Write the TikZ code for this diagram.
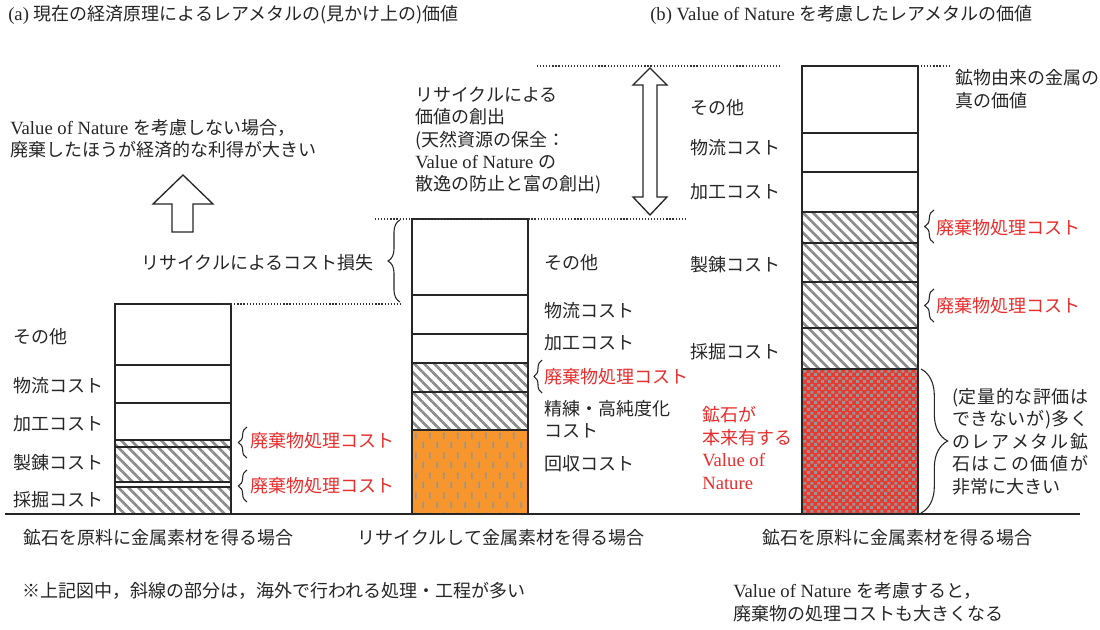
\documentclass[tikz,border=0pt]{standalone}
\usepackage{fontspec}
\setmainfont{Liberation Serif}
\newfontfamily\jpfont{Noto Sans CJK JP}
\usetikzlibrary{patterns,patterns.meta,decorations.pathreplacing}
\newcommand\latn[1]{{\rmfamily\fontsize{14}{16.8}\selectfont #1}}
\definecolor{hatchgray}{RGB}{140,140,140}
\definecolor{dashgray}{RGB}{150,150,150}
\definecolor{sqgray}{RGB}{150,150,150}
\definecolor{orangefill}{RGB}{247,150,45}
\definecolor{redfill}{RGB}{235,55,45}
\definecolor{redtext}{RGB}{232,45,45}
\pgfdeclarepatternformonly{vdashes}{\pgfqpoint{0pt}{0pt}}{\pgfqpoint{10.5pt}{15pt}}{\pgfqpoint{10.5pt}{15pt}}{%
  \pgfsetlinewidth{1.3pt}%
  \pgfpathmoveto{\pgfqpoint{2.6pt}{1.2pt}}\pgfpathlineto{\pgfqpoint{2.6pt}{6.3pt}}%
  \pgfpathmoveto{\pgfqpoint{7.85pt}{8.7pt}}\pgfpathlineto{\pgfqpoint{7.85pt}{13.8pt}}%
  \pgfusepath{stroke}}
\pgfdeclarepatternformonly{gsquares}{\pgfqpoint{0pt}{0pt}}{\pgfqpoint{5pt}{5pt}}{\pgfqpoint{5pt}{5pt}}{%
  \pgfpathrectangle{\pgfqpoint{0.1pt}{0.1pt}}{\pgfqpoint{2.3pt}{2.3pt}}%
  \pgfpathrectangle{\pgfqpoint{2.6pt}{2.6pt}}{\pgfqpoint{2.3pt}{2.3pt}}%
  \pgfusepath{fill}}
\tikzset{
  txt/.style={font=\jpfont\fontsize{13.5}{16.8}\selectfont, inner sep=0pt, anchor=west, text=black!85},
  rtxt/.style={txt, text=redtext},
  barline/.style={draw=black!85, line width=1pt},
  hatch/.style={pattern={Lines[angle=-45,distance=5.3pt,line width=2pt]}, pattern color=hatchgray},
  dotl/.style={draw=black!80, line width=0.8pt, dash pattern=on 0.9pt off 1.4pt},
  brc/.style={decorate, decoration={brace, amplitude=#1}, draw=black!85, line width=0.8pt},
  blockarrow/.style={draw=black!85, line width=1pt, fill=white, line join=miter}
}
\begin{document}
\begin{tikzpicture}[x=0.75pt,y=-0.75pt]
\fill[white] (0,0) rectangle (1100,629);
\useasboundingbox (0,0) rectangle (1100,629);

% ---------- titles
\node[txt] (ta) at (8,15) {\latn{(a) }現在の経済原理によるレアメタルの(見かけ上の)価値};
\node[txt] (tb) at (650,15) {\latn{(b) Value of Nature }を考慮したレアメタルの価値};

% ---------- bar 1
\path[hatch] (115,440) rectangle (231,482);
\path[hatch] (115,487) rectangle (231,514);
\draw[barline] (115,304) rectangle (231,514);
\foreach \yy in {365,403,440,447,482,487} \draw[barline] (115,\yy) -- (231,\yy);

% ---------- bar 2
\fill[orangefill] (412,430) rectangle (528,514);
\path[pattern=vdashes, pattern color=dashgray] (412,430) rectangle (528,514);
\path[hatch] (412,363) rectangle (528,430);
\draw[barline] (412,219) rectangle (528,514);
\foreach \yy in {295,334,363,392,430} \draw[barline] (412,\yy) -- (528,\yy);

% ---------- bar 3
\fill[redfill] (802,369) rectangle (918,514);
\path[pattern=gsquares, pattern color=sqgray] (802,369) rectangle (918,514);
\path[hatch] (802,212) rectangle (918,369);
\draw[barline] (802,66) rectangle (918,514);
\foreach \yy in {133,172,212,243,282,328,369} \draw[barline] (802,\yy) -- (918,\yy);

% ---------- baseline
\draw[black!85, line width=1pt] (5,514) -- (1080,514);

% ---------- dotted guide lines
\draw[dotl] (537,66) -- (780,66);
\draw[dotl] (918,66) -- (950,66);
\draw[dotl] (375,219) -- (685,219);
\draw[dotl] (222,304) -- (402,304);

% ---------- block arrows
\draw[blockarrow] (183,175) -- (213,204) -- (193,204) -- (193,232) -- (172,232) -- (172,204) -- (153,204) -- cycle;
\draw[blockarrow] (650,68) -- (667,85) -- (657,85) -- (657,197) -- (667,197) -- (650,215) -- (633,197) -- (643,197) -- (643,85) -- (633,85) -- cycle;

% ---------- bar 1 labels
\node[txt] (a1) at (13,337) {その他};
\node[txt] (a2) at (13,386) {物流コスト};
\node[txt] (a3) at (13,424) {加工コスト};
\node[txt] (a4) at (13,463) {製錬コスト};
\node[txt] (a5) at (13,500) {採掘コスト};
\coordinate (b1a) at (247,458); \coordinate (b1b) at (247,427);
\coordinate (b1c) at (247,502); \coordinate (b1d) at (247,470);
\draw[brc=6.5pt] (b1a) -- (b1b);
\draw[brc=6.5pt] (b1c) -- (b1d);
\node[rtxt] (w1) at (250,441) {廃棄物処理コスト};
\node[rtxt] (w2) at (250,486) {廃棄物処理コスト};

% ---------- left texts
\node[txt, align=left] (noval) at (10,139) {\latn{Value of Nature }を考慮しない場合，\\廃棄したほうが経済的な利得が大きい};
\coordinate (b0a) at (400,302); \coordinate (b0b) at (400,220);
\draw[brc=9pt] (b0a) -- (b0b);
\node[txt, anchor=east] (loss) at (374,263) {リサイクルによるコスト損失};

% ---------- bar 2 labels
\node[txt, align=left] (crt) at (415,140.5) {リサイクルによる\\価値の創出\\(天然資源の保全：\\\latn{Value of Nature }の\\散逸の防止と富の創出)};
\node[txt] (c1) at (544,263) {その他};
\node[txt] (c2) at (544,311) {物流コスト};
\node[txt] (c3) at (544,343) {加工コスト};
\coordinate (b2a) at (542,393); \coordinate (b2b) at (542,360);
\draw[brc=6pt] (b2a) -- (b2b);
\node[rtxt] (w3) at (544,377) {廃棄物処理コスト};
\node[txt, align=left] (c4) at (544,419) {精練・高純度化\\コスト};
\node[txt] (c5) at (544,464) {回収コスト};

% ---------- bar 3 labels
\node[txt] (d1) at (690,108) {その他};
\node[txt] (d2) at (690,148) {物流コスト};
\node[txt] (d3) at (690,192) {加工コスト};
\node[txt] (d4) at (690,265) {製錬コスト};
\node[txt] (d5) at (690,352) {採掘コスト};
\node[rtxt, align=left] (vn) at (702,448) {鉱石が\\本来有する\\\latn{Value of}\\\latn{Nature}};
\node[txt, align=left] (truev) at (955,89) {鉱物由来の金属の\\真の価値};
\coordinate (b3a) at (934,243); \coordinate (b3b) at (934,210);
\coordinate (b3c) at (934,322); \coordinate (b3d) at (934,289);
\draw[brc=7pt] (b3a) -- (b3b);
\draw[brc=7pt] (b3c) -- (b3d);
\node[rtxt] (w4) at (936,228) {廃棄物処理コスト};
\node[rtxt] (w5) at (936,306) {廃棄物処理コスト};
\coordinate (b4a) at (921,369); \coordinate (b4b) at (921,513);
\draw[brc=20pt] (b4a) -- (b4b);
\node[txt, align=left] (para) at (952,441.5) {\makebox[102pt][s]{(\hfil 定\hfil 量\hfil 的\hfil な\hfil 評\hfil 価\hfil は}\\\makebox[102pt][s]{で\hfil き\hfil な\hfil い\hfil が\hfil )\hfil 多\hfil く}\\\makebox[102pt][s]{の\hfil レ\hfil ア\hfil メ\hfil タ\hfil ル\hfil 鉱}\\\makebox[102pt][s]{石\hfil は\hfil こ\hfil の\hfil 価\hfil 値\hfil が}\\非常に大きい};

% ---------- bottom captions
\node[txt, anchor=center] (cap1) at (158,538) {鉱石を原料に金属素材を得る場合};
\node[txt, anchor=center] (cap2) at (501,538) {リサイクルして金属素材を得る場合};
\node[txt, anchor=center] (cap3) at (897,538) {鉱石を原料に金属素材を得る場合};
\node[txt] (note) at (22,591) {※上記図中，斜線の部分は，海外で行われる処理・工程が多い};
\node[txt, align=left] (note2) at (733,602) {\latn{Value of Nature }を考慮すると，\\廃棄物の処理コストも大きくなる};
\end{tikzpicture}
\end{document}
